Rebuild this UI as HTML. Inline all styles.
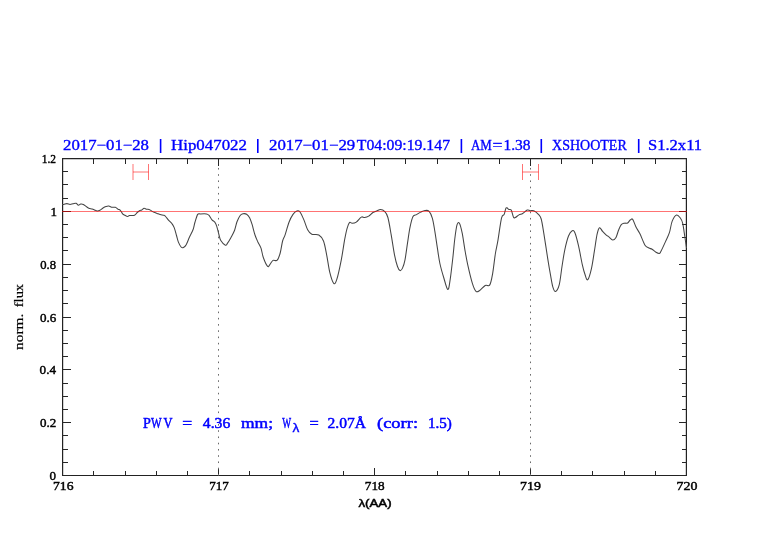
<!DOCTYPE html>
<html><head><meta charset="utf-8"><style>
html,body{margin:0;padding:0;background:#fff;width:782px;height:542px;overflow:hidden}
svg{display:block;will-change:transform}
</style></head><body>
<svg width="782" height="542" viewBox="0 0 782 542">
<rect width="782" height="542" fill="#fff"/>
<g stroke="#222" stroke-width="1.2" fill="none">
<path d="M62.6,158.6 H686.4 V475.5 H62.6 Z"/>
</g>
<g stroke="#262626" stroke-width="1" fill="none" shape-rendering="crispEdges">
<path d="M62.50,476.0 V467.5 M62.50,158.0 V166.0 M93.50,476.0 V470.5 M93.50,158.0 V163.5 M125.50,476.0 V470.5 M125.50,158.0 V163.5 M156.50,476.0 V470.5 M156.50,158.0 V163.5 M187.50,476.0 V470.5 M187.50,158.0 V163.5 M218.50,476.0 V467.5 M218.50,158.0 V166.0 M249.50,476.0 V470.5 M249.50,158.0 V163.5 M281.50,476.0 V470.5 M281.50,158.0 V163.5 M312.50,476.0 V470.5 M312.50,158.0 V163.5 M343.50,476.0 V470.5 M343.50,158.0 V163.5 M374.50,476.0 V467.5 M374.50,158.0 V166.0 M405.50,476.0 V470.5 M405.50,158.0 V163.5 M437.50,476.0 V470.5 M437.50,158.0 V163.5 M468.50,476.0 V470.5 M468.50,158.0 V163.5 M499.50,476.0 V470.5 M499.50,158.0 V163.5 M530.50,476.0 V467.5 M530.50,158.0 V166.0 M561.50,476.0 V470.5 M561.50,158.0 V163.5 M592.50,476.0 V470.5 M592.50,158.0 V163.5 M624.50,476.0 V470.5 M624.50,158.0 V163.5 M655.50,476.0 V470.5 M655.50,158.0 V163.5 M686.50,476.0 V467.5 M686.50,158.0 V166.0 M62.0,475.50 H70.5 M687.0,475.50 H679.0 M62.0,462.50 H67.5 M687.0,462.50 H682.0 M62.0,449.50 H67.5 M687.0,449.50 H682.0 M62.0,435.50 H67.5 M687.0,435.50 H682.0 M62.0,422.50 H70.5 M687.0,422.50 H679.0 M62.0,409.50 H67.5 M687.0,409.50 H682.0 M62.0,396.50 H67.5 M687.0,396.50 H682.0 M62.0,383.50 H67.5 M687.0,383.50 H682.0 M62.0,369.50 H70.5 M687.0,369.50 H679.0 M62.0,356.50 H67.5 M687.0,356.50 H682.0 M62.0,343.50 H67.5 M687.0,343.50 H682.0 M62.0,330.50 H67.5 M687.0,330.50 H682.0 M62.0,317.50 H70.5 M687.0,317.50 H679.0 M62.0,303.50 H67.5 M687.0,303.50 H682.0 M62.0,290.50 H67.5 M687.0,290.50 H682.0 M62.0,277.50 H67.5 M687.0,277.50 H682.0 M62.0,264.50 H70.5 M687.0,264.50 H679.0 M62.0,250.50 H67.5 M687.0,250.50 H682.0 M62.0,237.50 H67.5 M687.0,237.50 H682.0 M62.0,224.50 H67.5 M687.0,224.50 H682.0 M62.0,211.50 H70.5 M687.0,211.50 H679.0 M62.0,198.50 H67.5 M687.0,198.50 H682.0 M62.0,184.50 H67.5 M687.0,184.50 H682.0 M62.0,171.50 H67.5 M687.0,171.50 H682.0 M62.0,158.50 H70.5 M687.0,158.50 H679.0"/>
</g>
<path d="M218.5,167.95 v1.6 M530.5,167.95 v1.6 M218.5,174.19 v1.6 M530.5,174.19 v1.6 M218.5,180.44 v1.6 M530.5,180.44 v1.6 M218.5,186.69 v1.6 M530.5,186.69 v1.6 M218.5,192.93 v1.6 M530.5,192.93 v1.6 M218.5,199.17 v1.6 M530.5,199.17 v1.6 M218.5,205.42 v1.6 M530.5,205.42 v1.6 M218.5,211.66 v1.6 M530.5,211.66 v1.6 M218.5,217.91 v1.6 M530.5,217.91 v1.6 M218.5,224.15 v1.6 M530.5,224.15 v1.6 M218.5,230.40 v1.6 M530.5,230.40 v1.6 M218.5,236.64 v1.6 M530.5,236.64 v1.6 M218.5,242.89 v1.6 M530.5,242.89 v1.6 M218.5,249.13 v1.6 M530.5,249.13 v1.6 M218.5,255.38 v1.6 M530.5,255.38 v1.6 M218.5,261.62 v1.6 M530.5,261.62 v1.6 M218.5,267.87 v1.6 M530.5,267.87 v1.6 M218.5,274.12 v1.6 M530.5,274.12 v1.6 M218.5,280.36 v1.6 M530.5,280.36 v1.6 M218.5,286.60 v1.6 M530.5,286.60 v1.6 M218.5,292.85 v1.6 M530.5,292.85 v1.6 M218.5,299.09 v1.6 M530.5,299.09 v1.6 M218.5,305.34 v1.6 M530.5,305.34 v1.6 M218.5,311.58 v1.6 M530.5,311.58 v1.6 M218.5,317.83 v1.6 M530.5,317.83 v1.6 M218.5,324.07 v1.6 M530.5,324.07 v1.6 M218.5,330.32 v1.6 M530.5,330.32 v1.6 M218.5,336.56 v1.6 M530.5,336.56 v1.6 M218.5,342.81 v1.6 M530.5,342.81 v1.6 M218.5,349.06 v1.6 M530.5,349.06 v1.6 M218.5,355.30 v1.6 M530.5,355.30 v1.6 M218.5,361.55 v1.6 M530.5,361.55 v1.6 M218.5,367.79 v1.6 M530.5,367.79 v1.6 M218.5,374.04 v1.6 M530.5,374.04 v1.6 M218.5,380.28 v1.6 M530.5,380.28 v1.6 M218.5,386.53 v1.6 M530.5,386.53 v1.6 M218.5,392.77 v1.6 M530.5,392.77 v1.6 M218.5,399.01 v1.6 M530.5,399.01 v1.6 M218.5,405.26 v1.6 M530.5,405.26 v1.6 M218.5,411.50 v1.6 M530.5,411.50 v1.6 M218.5,417.75 v1.6 M530.5,417.75 v1.6 M218.5,424.00 v1.6 M530.5,424.00 v1.6 M218.5,430.24 v1.6 M530.5,430.24 v1.6 M218.5,436.49 v1.6 M530.5,436.49 v1.6 M218.5,442.73 v1.6 M530.5,442.73 v1.6 M218.5,448.97 v1.6 M530.5,448.97 v1.6 M218.5,455.22 v1.6 M530.5,455.22 v1.6 M218.5,461.46 v1.6 M530.5,461.46 v1.6 M218.5,467.71 v1.6 M530.5,467.71 v1.6 M218.5,473.95 v1.6 M530.5,473.95 v1.6" stroke="#6a6a6a" stroke-width="1" fill="none"/>
<path d="M62.00,204.40 C62.30,204.40 62.98,204.53 63.80,204.40 C64.62,204.27 65.87,203.60 66.90,203.60 C67.93,203.60 68.98,204.37 70.00,204.40 C71.02,204.43 71.98,203.98 73.00,203.80 C74.02,203.62 75.20,203.07 76.10,203.30 C77.00,203.53 77.63,205.08 78.40,205.20 C79.17,205.32 79.87,204.13 80.70,204.00 C81.53,203.87 82.50,204.00 83.40,204.40 C84.30,204.80 85.20,205.77 86.10,206.40 C87.00,207.03 87.78,207.77 88.80,208.20 C89.82,208.63 91.25,208.70 92.20,209.00 C93.15,209.30 93.67,209.67 94.50,210.00 C95.33,210.33 96.30,210.95 97.20,211.00 C98.10,211.05 98.93,210.80 99.90,210.30 C100.87,209.80 101.98,208.63 103.00,208.00 C104.02,207.37 105.05,206.83 106.00,206.50 C106.95,206.17 107.67,205.87 108.70,206.00 C109.73,206.13 111.10,207.08 112.20,207.30 C113.30,207.52 114.33,206.98 115.30,207.30 C116.27,207.62 117.17,208.70 118.00,209.20 C118.83,209.70 119.53,209.53 120.30,210.30 C121.07,211.07 121.83,212.97 122.60,213.80 C123.37,214.63 124.07,214.85 124.90,215.30 C125.73,215.75 126.83,216.45 127.60,216.50 C128.37,216.55 128.35,215.80 129.50,215.60 C130.65,215.40 133.22,215.82 134.50,215.30 C135.78,214.78 136.37,213.27 137.20,212.50 C138.03,211.73 138.73,211.12 139.50,210.70 C140.27,210.28 141.03,210.40 141.80,210.00 C142.57,209.60 143.33,208.43 144.10,208.30 C144.87,208.17 145.57,209.02 146.40,209.20 C147.23,209.38 148.20,209.08 149.10,209.40 C150.00,209.72 150.97,210.62 151.80,211.10 C152.63,211.58 153.22,211.92 154.10,212.30 C154.98,212.68 156.08,213.02 157.10,213.40 C158.12,213.78 159.05,214.28 160.20,214.60 C161.35,214.92 163.10,214.98 164.00,215.30 C164.90,215.62 164.82,215.67 165.60,216.50 C166.38,217.33 167.67,219.13 168.70,220.30 C169.73,221.47 170.88,222.28 171.80,223.50 C172.72,224.72 173.42,225.60 174.20,227.60 C174.98,229.60 175.82,233.12 176.50,235.50 C177.18,237.88 177.53,239.98 178.30,241.90 C179.07,243.82 180.25,246.07 181.10,247.00 C181.95,247.93 182.55,247.88 183.40,247.50 C184.25,247.12 185.20,246.40 186.20,244.70 C187.20,243.00 188.25,239.83 189.40,237.30 C190.55,234.77 192.18,231.97 193.10,229.50 C194.02,227.03 194.13,225.02 194.90,222.50 C195.67,219.98 196.77,215.83 197.70,214.40 C198.63,212.97 199.03,213.98 200.50,213.90 C201.97,213.82 205.12,213.68 206.50,213.90 C207.88,214.12 207.88,214.22 208.80,215.20 C209.72,216.18 211.00,218.65 212.00,219.80 C213.00,220.95 214.03,221.10 214.80,222.10 C215.57,223.10 215.92,223.73 216.60,225.80 C217.28,227.87 218.20,232.05 218.90,234.50 C219.60,236.95 219.72,238.72 220.80,240.50 C221.88,242.28 224.30,244.72 225.40,245.20 C226.50,245.68 226.47,244.70 227.40,243.40 C228.33,242.10 229.80,239.60 231.00,237.40 C232.20,235.20 233.60,232.80 234.60,230.20 C235.60,227.60 236.10,224.22 237.00,221.80 C237.90,219.38 239.00,217.03 240.00,215.70 C241.00,214.37 241.90,214.05 243.00,213.80 C244.10,213.55 245.50,213.53 246.60,214.20 C247.70,214.87 248.70,216.13 249.60,217.80 C250.50,219.47 251.10,221.33 252.00,224.20 C252.90,227.07 254.00,232.00 255.00,235.00 C256.00,238.00 257.00,240.00 258.00,242.20 C259.00,244.40 260.10,245.60 261.00,248.20 C261.90,250.80 262.30,254.77 263.40,257.80 C264.50,260.83 266.50,265.30 267.60,266.40 C268.70,267.50 269.10,265.40 270.00,264.40 C270.90,263.40 271.80,261.10 273.00,260.40 C274.20,259.70 276.00,261.43 277.20,260.20 C278.40,258.97 279.30,256.20 280.20,253.00 C281.10,249.80 281.78,244.03 282.60,241.00 C283.42,237.97 284.03,237.93 285.10,234.80 C286.17,231.67 287.68,225.60 289.00,222.20 C290.32,218.80 291.68,216.27 293.00,214.40 C294.32,212.53 295.73,211.40 296.90,211.00 C298.07,210.60 298.83,210.52 300.00,212.00 C301.17,213.48 302.60,216.88 303.90,219.90 C305.20,222.92 306.48,227.70 307.80,230.10 C309.12,232.50 309.97,233.48 311.80,234.30 C313.63,235.12 316.85,233.88 318.80,235.00 C320.75,236.12 322.18,237.65 323.50,241.00 C324.82,244.35 325.65,249.87 326.70,255.10 C327.75,260.33 328.63,267.70 329.80,272.40 C330.97,277.10 332.53,282.13 333.70,283.30 C334.87,284.47 335.53,283.32 336.80,279.40 C338.07,275.48 340.00,266.38 341.30,259.80 C342.60,253.22 343.63,245.15 344.60,239.90 C345.57,234.65 346.27,231.22 347.10,228.30 C347.93,225.38 348.77,223.23 349.60,222.40 C350.43,221.57 350.98,223.35 352.10,223.30 C353.22,223.25 354.77,223.13 356.30,222.10 C357.83,221.07 359.92,217.87 361.30,217.10 C362.68,216.33 363.37,217.67 364.60,217.50 C365.83,217.33 367.32,216.93 368.70,216.10 C370.08,215.27 371.50,213.38 372.90,212.50 C374.30,211.62 375.85,211.28 377.10,210.80 C378.35,210.32 379.17,209.52 380.40,209.60 C381.63,209.68 383.25,209.98 384.50,211.30 C385.75,212.62 386.78,213.57 387.90,217.50 C389.02,221.43 390.10,228.68 391.20,234.90 C392.30,241.12 393.45,249.53 394.50,254.80 C395.55,260.07 396.58,263.87 397.50,266.50 C398.42,269.13 399.17,270.33 400.00,270.60 C400.83,270.87 401.67,269.90 402.50,268.10 C403.33,266.30 404.17,263.95 405.00,259.80 C405.83,255.65 406.67,248.60 407.50,243.20 C408.33,237.80 409.08,231.83 410.00,227.40 C410.92,222.97 411.90,218.73 413.00,216.60 C414.10,214.47 415.30,215.35 416.60,214.60 C417.90,213.85 419.42,212.78 420.80,212.10 C422.18,211.42 423.52,210.63 424.90,210.50 C426.28,210.37 427.85,210.00 429.10,211.30 C430.35,212.60 431.43,214.92 432.40,218.30 C433.37,221.68 434.07,226.62 434.90,231.60 C435.73,236.58 436.57,242.88 437.40,248.20 C438.23,253.52 438.85,258.62 439.90,263.50 C440.95,268.38 442.38,273.17 443.70,277.50 C445.02,281.83 446.72,289.18 447.80,289.50 C448.88,289.82 449.35,284.78 450.20,279.40 C451.05,274.02 452.13,263.97 452.90,257.20 C453.67,250.43 454.12,244.18 454.80,238.80 C455.48,233.42 456.23,227.48 457.00,224.90 C457.77,222.32 458.53,221.92 459.40,223.30 C460.27,224.68 461.28,228.78 462.20,233.20 C463.12,237.62 463.98,244.57 464.90,249.80 C465.82,255.03 466.47,259.05 467.70,264.60 C468.93,270.15 470.92,278.63 472.30,283.10 C473.68,287.57 474.77,290.17 476.00,291.40 C477.23,292.63 478.17,291.48 479.70,290.50 C481.23,289.52 483.52,286.43 485.20,285.50 C486.88,284.57 488.57,286.85 489.80,284.90 C491.03,282.95 491.67,279.03 492.60,273.80 C493.53,268.57 494.53,258.93 495.40,253.50 C496.27,248.07 496.78,247.10 497.80,241.20 C498.82,235.30 500.43,222.57 501.50,218.10 C502.57,213.63 503.43,216.10 504.20,214.40 C504.97,212.70 505.33,208.73 506.10,207.90 C506.87,207.07 507.95,209.03 508.80,209.40 C509.65,209.77 510.42,208.80 511.20,210.10 C511.98,211.40 512.82,215.97 513.50,217.20 C514.18,218.43 514.38,217.88 515.30,217.50 C516.22,217.12 517.77,215.57 519.00,214.90 C520.23,214.23 521.32,214.30 522.70,213.50 C524.08,212.70 526.07,210.57 527.30,210.10 C528.53,209.63 529.02,210.60 530.10,210.70 C531.18,210.80 532.42,210.08 533.80,210.70 C535.18,211.32 537.17,213.02 538.40,214.40 C539.63,215.78 540.28,215.77 541.20,219.00 C542.12,222.23 542.83,227.33 543.90,233.80 C544.97,240.27 546.52,251.03 547.60,257.80 C548.68,264.57 549.53,269.57 550.40,274.40 C551.27,279.23 551.95,283.97 552.80,286.80 C553.65,289.63 554.43,291.72 555.50,291.40 C556.57,291.08 558.12,289.05 559.20,284.90 C560.28,280.75 561.07,272.35 562.00,266.50 C562.93,260.65 563.72,254.88 564.80,249.80 C565.88,244.72 567.27,239.18 568.50,236.00 C569.73,232.82 571.13,231.23 572.20,230.70 C573.27,230.17 573.83,230.22 574.90,232.80 C575.97,235.38 577.37,240.90 578.60,246.20 C579.83,251.50 581.22,259.83 582.30,264.60 C583.38,269.37 584.18,272.28 585.10,274.80 C586.02,277.32 586.73,280.78 587.80,279.70 C588.87,278.62 590.42,272.97 591.50,268.30 C592.58,263.63 593.37,257.38 594.30,251.70 C595.23,246.02 596.23,238.20 597.10,234.20 C597.97,230.20 598.58,228.17 599.50,227.70 C600.42,227.23 601.47,230.17 602.60,231.40 C603.73,232.63 605.25,234.20 606.30,235.10 C607.35,236.00 607.83,235.98 608.90,236.80 C609.97,237.62 611.52,239.90 612.70,240.00 C613.88,240.10 615.03,239.02 616.00,237.40 C616.97,235.78 617.65,232.40 618.50,230.30 C619.35,228.20 620.12,225.98 621.10,224.80 C622.08,223.62 623.32,223.50 624.40,223.20 C625.48,222.90 626.63,223.53 627.60,223.00 C628.57,222.47 629.35,220.60 630.20,220.00 C631.05,219.40 631.73,218.22 632.70,219.40 C633.67,220.58 634.82,224.75 636.00,227.10 C637.18,229.45 638.30,230.48 639.80,233.50 C641.30,236.52 643.48,242.78 645.00,245.20 C646.52,247.62 647.72,247.32 648.90,248.00 C650.08,248.68 650.92,248.58 652.10,249.30 C653.28,250.02 654.78,251.62 656.00,252.30 C657.22,252.98 658.55,253.62 659.40,253.40 C660.25,253.18 660.08,252.97 661.10,251.00 C662.12,249.03 664.12,244.65 665.50,241.60 C666.88,238.55 668.28,236.12 669.40,232.70 C670.52,229.28 671.00,224.05 672.20,221.10 C673.40,218.15 675.22,215.47 676.60,215.00 C677.98,214.53 679.48,216.92 680.50,218.30 C681.52,219.68 682.07,220.82 682.70,223.30 C683.33,225.78 683.67,229.08 684.30,233.20 C684.93,237.32 686.13,245.53 686.50,248.00" stroke="#444" stroke-width="1.05" fill="none" stroke-linejoin="round"/>
<g stroke="#ff0000" stroke-opacity="0.55" stroke-width="1" fill="none">
<path d="M62,211.5 H687" shape-rendering="crispEdges"/>
<path d="M133,164 V180 M148.5,164 V180 M133,172 H148.5 M522.5,164 V180 M538.5,164 V180 M522.5,172 H538.5"/>
</g>
<g fill="#000">
<text x="41.80" y="162.50" font-family="Liberation Serif" font-weight="normal" font-size="13" stroke="#000" stroke-width="0.45" textLength="14.23" lengthAdjust="spacingAndGlyphs">1.2</text>
<text x="50.60" y="215.50" font-family="Liberation Serif" font-weight="normal" font-size="13" stroke="#000" stroke-width="0.45">1</text>
<text x="40.20" y="268.50" font-family="Liberation Serif" font-weight="normal" font-size="13" stroke="#000" stroke-width="0.45" textLength="15.82" lengthAdjust="spacingAndGlyphs">0.8</text>
<text x="40.00" y="321.70" font-family="Liberation Serif" font-weight="normal" font-size="13" stroke="#000" stroke-width="0.45" textLength="16.29" lengthAdjust="spacingAndGlyphs">0.6</text>
<text x="39.60" y="374.30" font-family="Liberation Serif" font-weight="normal" font-size="13" stroke="#000" stroke-width="0.45" textLength="16.45" lengthAdjust="spacingAndGlyphs">0.4</text>
<text x="40.00" y="426.90" font-family="Liberation Serif" font-weight="normal" font-size="13" stroke="#000" stroke-width="0.45" textLength="16.23" lengthAdjust="spacingAndGlyphs">0.2</text>
<text x="49.60" y="480.10" font-family="Liberation Serif" font-weight="normal" font-size="13" stroke="#000" stroke-width="0.45">0</text>
<text x="53.00" y="490.40" font-family="Liberation Serif" font-weight="normal" font-size="13" stroke="#000" stroke-width="0.45" textLength="20.48" lengthAdjust="spacingAndGlyphs">716</text>
<text x="209.20" y="490.40" font-family="Liberation Serif" font-weight="normal" font-size="13" stroke="#000" stroke-width="0.45" textLength="19.64" lengthAdjust="spacingAndGlyphs">717</text>
<text x="364.80" y="490.40" font-family="Liberation Serif" font-weight="normal" font-size="13" stroke="#000" stroke-width="0.45" textLength="19.82" lengthAdjust="spacingAndGlyphs">718</text>
<text x="520.00" y="490.40" font-family="Liberation Serif" font-weight="normal" font-size="13" stroke="#000" stroke-width="0.45" textLength="20.86" lengthAdjust="spacingAndGlyphs">719</text>
<text x="676.60" y="490.40" font-family="Liberation Serif" font-weight="normal" font-size="13" stroke="#000" stroke-width="0.45" textLength="20.86" lengthAdjust="spacingAndGlyphs">720</text>
<text x="358.40" y="507.00" font-family="Liberation Sans" font-weight="normal" font-size="11.5" stroke="#000" stroke-width="0.5" textLength="33.22" lengthAdjust="spacingAndGlyphs">λ(AA)</text>
<text font-family="Liberation Serif" font-weight="normal" font-size="12.5" stroke="#000" stroke-width="0.2" transform="translate(23.3,349.9) rotate(-90)" textLength="36.2" lengthAdjust="spacingAndGlyphs">norm.</text>
<text font-family="Liberation Serif" font-weight="normal" font-size="12.5" stroke="#000" stroke-width="0.2" transform="translate(23.3,307.2) rotate(-90)" textLength="23.3" lengthAdjust="spacingAndGlyphs">flux</text>
</g>
<g fill="#0000ff">
<text x="63.00" y="150.10" font-family="Liberation Serif" font-weight="normal" font-size="15" stroke="#0000ff" stroke-width="0.35" textLength="86.00" lengthAdjust="spacingAndGlyphs">2017−01−28</text>
<text x="171.00" y="150.30" font-family="Liberation Serif" font-weight="normal" font-size="15" stroke="#0000ff" stroke-width="0.35" textLength="76.01" lengthAdjust="spacingAndGlyphs">Hip047022</text>
<text x="269.00" y="150.10" font-family="Liberation Serif" font-weight="normal" font-size="15" stroke="#0000ff" stroke-width="0.35" textLength="86.20" lengthAdjust="spacingAndGlyphs">2017−01−29</text>
<text x="356.80" y="150.10" font-family="Liberation Serif" font-weight="normal" font-size="15" stroke="#0000ff" stroke-width="0.35" textLength="93.21" lengthAdjust="spacingAndGlyphs">T04:09:19.147</text>
<text x="471.00" y="150.10" font-family="Liberation Serif" font-weight="normal" font-size="15" stroke="#0000ff" stroke-width="0.35" textLength="20.86" lengthAdjust="spacingAndGlyphs">AM</text>
<text x="492.60" y="150.10" font-family="Liberation Serif" font-weight="normal" font-size="15" stroke="#0000ff" stroke-width="0.35" textLength="9.95" lengthAdjust="spacingAndGlyphs">=</text>
<text x="503.40" y="150.10" font-family="Liberation Serif" font-weight="normal" font-size="15" stroke="#0000ff" stroke-width="0.35" textLength="27.10" lengthAdjust="spacingAndGlyphs">1.38</text>
<text x="552.00" y="150.10" font-family="Liberation Serif" font-weight="normal" font-size="15" stroke="#0000ff" stroke-width="0.35" textLength="74.80" lengthAdjust="spacingAndGlyphs">XSHOOTER</text>
<text x="648.00" y="150.10" font-family="Liberation Serif" font-weight="normal" font-size="15" stroke="#0000ff" stroke-width="0.35" textLength="54.08" lengthAdjust="spacingAndGlyphs">S1.2x11</text>
<text x="143.00" y="427.50" font-family="Liberation Serif" font-weight="normal" font-size="15" stroke="#0000ff" stroke-width="0.5" textLength="7.83" lengthAdjust="spacingAndGlyphs">P</text>
<text x="151.00" y="427.50" font-family="Liberation Serif" font-weight="normal" font-size="15" stroke="#0000ff" stroke-width="0.5" textLength="10.61" lengthAdjust="spacingAndGlyphs">W</text>
<text x="163.40" y="427.50" font-family="Liberation Serif" font-weight="normal" font-size="15" stroke="#0000ff" stroke-width="0.5" textLength="9.00" lengthAdjust="spacingAndGlyphs">V</text>
<text x="182.20" y="427.50" font-family="Liberation Serif" font-weight="normal" font-size="15" stroke="#0000ff" stroke-width="0.5" textLength="9.95" lengthAdjust="spacingAndGlyphs">=</text>
<text x="202.80" y="427.50" font-family="Liberation Serif" font-weight="normal" font-size="15" stroke="#0000ff" stroke-width="0.5" textLength="27.42" lengthAdjust="spacingAndGlyphs">4.36</text>
<text x="241.00" y="427.50" font-family="Liberation Serif" font-weight="normal" font-size="15" stroke="#0000ff" stroke-width="0.5" textLength="32.03" lengthAdjust="spacingAndGlyphs">mm;</text>
<text x="282.20" y="427.50" font-family="Liberation Serif" font-weight="normal" font-size="15" stroke="#0000ff" stroke-width="0.5" textLength="8.85" lengthAdjust="spacingAndGlyphs">W</text>
<text x="292.40" y="431.50" font-family="Liberation Sans" font-weight="normal" font-size="12" stroke="#0000ff" stroke-width="0.3" textLength="6.85" lengthAdjust="spacingAndGlyphs">λ</text>
<text x="309.40" y="427.50" font-family="Liberation Serif" font-weight="normal" font-size="15" stroke="#0000ff" stroke-width="0.5" textLength="9.25" lengthAdjust="spacingAndGlyphs">=</text>
<text x="327.60" y="427.50" font-family="Liberation Serif" font-weight="normal" font-size="15" stroke="#0000ff" stroke-width="0.5" textLength="38.42" lengthAdjust="spacingAndGlyphs">2.07Å</text>
<text x="377.00" y="427.50" font-family="Liberation Serif" font-weight="normal" font-size="15" stroke="#0000ff" stroke-width="0.5" textLength="41.03" lengthAdjust="spacingAndGlyphs">(corr:</text>
<text x="428.00" y="427.50" font-family="Liberation Serif" font-weight="normal" font-size="15" stroke="#0000ff" stroke-width="0.5" textLength="23.90" lengthAdjust="spacingAndGlyphs">1.5)</text>
<rect x="159.8" y="139" width="1.6" height="14"/><rect x="257.0" y="139" width="1.6" height="14"/><rect x="460.6" y="139" width="1.6" height="14"/><rect x="540.5" y="139" width="1.6" height="14"/><rect x="637.9" y="139" width="1.6" height="14"/>
</g>
</svg>
</body></html>
